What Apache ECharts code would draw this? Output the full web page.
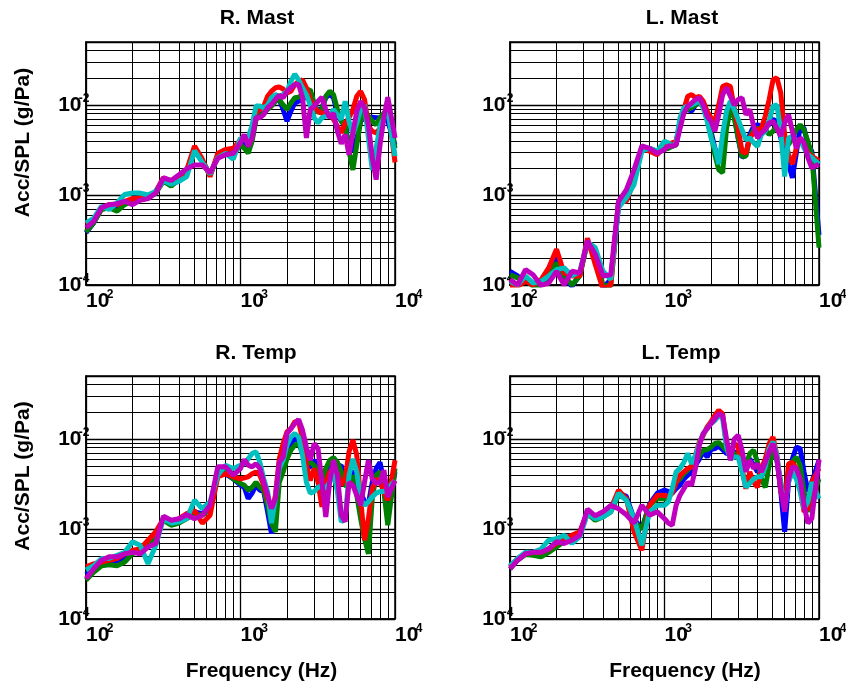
<!DOCTYPE html>
<html><head><meta charset="utf-8">
<script src="https://cdn.jsdelivr.net/npm/echarts@6/dist/echarts.min.js"></script>
<style>html,body{margin:0;padding:0;background:#fff}#c{width:846px;height:688px}</style>
</head><body><div id="c"></div>
<script>
// ---- data ----
const freq = [100,112,126,141,159,178,200,224,252,283,317,356,400,449,504,566,635,713,800,898,
 1000,1059,1122,1189,1260,1335,1414,1498,1587,1682,1782,1888,2000,2119,2245,2378,2520,2670,2828,2997,
 3175,3364,3564,3776,4000,4238,4490,4757,5040,5339,5657,5993,6350,6727,7127,7551,8000,8476,8980,10000];

const panelTitles = ['R. Mast','L. Mast','R. Temp','L. Temp'];
const yAxisTitle = 'Acc/SPL (g/Pa)';
const xAxisTitle = 'Frequency (Hz)';
const xTickValues = [100, 1000, 10000];
const yTickValues = [1e-4, 1e-3, 1e-2];
const minorMult = [2,3,4,5,6,7,8,9];

const rMastB = [3.8e-4,4.9e-4,7.1e-4,7.5e-4,7.2e-4,8.2e-4,8.9e-4,9.3e-4,9.4e-4,1.08e-3,1.48e-3,1.3e-3,1.44e-3,1.83e-3,3.2e-3,2.4e-3,1.68e-3,2.7e-3,2.9e-3,2.9e-3,
 3.8e-3,3.6e-3,3.3e-3,4.3e-3,7.2e-3,7.8e-3,8.1e-3,9.3e-3,1.0e-2,1.1e-2,1.15e-2,8.9e-3,6.6e-3,8.5e-3,1.05e-2,1.1e-2,1.15e-2,1.25e-2,1.3e-2,1.0e-2,8.5e-3,9.3e-3,1.2e-2,1.32e-2,1.2e-2,8.1e-3,6.6e-3,5.8e-3,3.6e-3,3.06e-3,4.3e-3,6.6e-3,7.2e-3,7.2e-3,7.3e-3,7.2e-3,7.2e-3,7.5e-3,6.6e-3,3.6e-3];
const rMastG = [3.9e-4,4.9e-4,6.9e-4,7.2e-4,6.6e-4,7.8e-4,8.6e-4,9.1e-4,9.3e-4,1.05e-3,1.42e-3,1.25e-3,1.5e-3,1.76e-3,3.06e-3,2.37e-3,1.68e-3,2.7e-3,2.9e-3,2.8e-3,
 3.6e-3,3.3e-3,2.9e-3,3.95e-3,6.9e-3,7.5e-3,8.1e-3,8.9e-3,9.7e-3,1.1e-2,1.15e-2,1.0e-2,8.9e-3,1.05e-2,1.2e-2,1.22e-2,1.3e-2,1.42e-2,1.48e-2,1.05e-2,8.1e-3,8.9e-3,1.25e-2,1.42e-2,1.3e-2,8.9e-3,6.6e-3,6.0e-3,3.06e-3,1.9e-3,3.6e-3,6.6e-3,8.9e-3,7.5e-3,6.6e-3,6.0e-3,7.2e-3,8.1e-3,8.9e-3,3.3e-3];
const rMastR = [4.7e-4,5.3e-4,7.2e-4,7.8e-4,7.8e-4,8.5e-4,9.1e-4,9.3e-4,9.3e-4,1.1e-3,1.55e-3,1.42e-3,1.6e-3,1.9e-3,3.5e-3,2.5e-3,1.6e-3,2.9e-3,3.2e-3,3.3e-3,
 4.1e-3,4.3e-3,3.95e-3,4.7e-3,8.1e-3,8.9e-3,9.7e-3,1.25e-2,1.42e-2,1.55e-2,1.58e-2,1.5e-2,1.36e-2,1.42e-2,1.68e-2,1.83e-2,1.9e-2,1.55e-2,1.15e-2,9.3e-3,8.5e-3,8.1e-3,7.8e-3,8.1e-3,6.9e-3,5.8e-3,4.9e-3,6.3e-3,7.2e-3,8.9e-3,1.25e-2,1.42e-2,1.15e-2,5.8e-3,5.1e-3,4.9e-3,5.5e-3,7.2e-3,1.0e-2,2.3e-3];
const rMastC = [4.9e-4,5.5e-4,7.5e-4,6.9e-4,8.2e-4,1.01e-3,1.05e-3,1.05e-3,1.0e-3,1.1e-3,1.44e-3,1.32e-3,1.42e-3,1.6e-3,3.1e-3,2.3e-3,1.7e-3,2.6e-3,2.9e-3,2.5e-3,
 4.3e-3,4.1e-3,4.3e-3,6.0e-3,9.7e-3,9.7e-3,9.3e-3,1.0e-2,1.2e-2,1.3e-2,1.25e-2,1.3e-2,1.42e-2,1.83e-2,2.2e-2,1.9e-2,1.55e-2,1.3e-2,1.0e-2,7.2e-3,6.3e-3,7.2e-3,7.5e-3,7.8e-3,8.9e-3,7.8e-3,6.9e-3,1.1e-2,6.6e-3,4.7e-3,6.3e-3,8.9e-3,1.0e-2,4.3e-3,1.9e-3,3.3e-3,5.8e-3,7.2e-3,8.5e-3,2.7e-3];
const rMastM = [4.3e-4,5.1e-4,7.2e-4,7.8e-4,8.0e-4,8.5e-4,7.8e-4,8.7e-4,9.1e-4,1.05e-3,1.55e-3,1.45e-3,1.68e-3,1.96e-3,2.15e-3,2.15e-3,1.76e-3,2.55e-3,2.8e-3,2.9e-3,
 3.8e-3,4.7e-3,3.45e-3,4.3e-3,7.3e-3,7.2e-3,7.8e-3,9.3e-3,1.01e-2,1.15e-2,1.28e-2,1.2e-2,1.42e-2,1.55e-2,1.68e-2,1.7e-2,1.2e-2,4.3e-3,8.9e-3,9.7e-3,1.1e-2,1.22e-2,8.9e-3,7.2e-3,8.1e-3,5.1e-3,3.7e-3,4.7e-3,2.8e-3,4.9e-3,8.5e-3,1.1e-2,9.3e-3,6.0e-3,2.6e-3,1.48e-3,3.6e-3,7.2e-3,1.22e-2,4.3e-3];

const lMastB = [1.42e-4,1.26e-4,1.1e-4,1.05e-4,1.0e-4,1.2e-4,2.2e-4,1.2e-4,9.7e-5,1.3e-4,3.0e-4,2.0e-4,9.3e-5,1.15e-4,7.8e-4,1.0e-3,1.55e-3,3.2e-3,3.2e-3,3.06e-3,
 3.3e-3,3.5e-3,3.6e-3,3.8e-3,6.6e-3,8.9e-3,8.9e-3,8.5e-3,1.0e-2,1.1e-2,9.7e-3,7.2e-3,5.1e-3,3.3e-3,2.37e-3,3.6e-3,7.2e-3,1.0e-2,7.5e-3,4.3e-3,2.6e-3,2.8e-3,4.7e-3,5.8e-3,6.0e-3,5.8e-3,6.3e-3,6.0e-3,6.9e-3,6.6e-3,4.3e-3,3.06e-3,2.2e-3,1.55e-3,2.9e-3,5.8e-3,5.5e-3,3.6e-3,3.06e-3,3.6e-4];
const lMastG = [1.3e-4,1.2e-4,1.15e-4,9.7e-5,1.0e-4,1.3e-4,1.76e-4,1.26e-4,1.0e-4,1.26e-4,3.0e-4,2.2e-4,1.0e-4,9.7e-5,7.8e-4,9.7e-4,1.48e-3,3.2e-3,3.3e-3,3.06e-3,
 3.2e-3,3.3e-3,3.45e-3,3.6e-3,6.3e-3,8.5e-3,8.9e-3,9.3e-3,1.0e-2,1.1e-2,9.3e-3,6.9e-3,4.7e-3,2.8e-3,1.9e-3,1.76e-3,5.5e-3,8.9e-3,7.2e-3,4.3e-3,2.7e-3,2.7e-3,4.3e-3,5.3e-3,5.5e-3,5.3e-3,5.3e-3,4.7e-3,5.1e-3,6.0e-3,4.9e-3,4.3e-3,3.6e-3,4.3e-3,5.3e-3,6.0e-3,5.3e-3,3.95e-3,2.8e-3,2.6e-4];
const lMastR = [9.7e-5,9.7e-5,1.1e-4,1.0e-4,1.15e-4,1.55e-4,2.5e-4,1.36e-4,1.26e-4,1.26e-4,3.3e-4,1.7e-4,8.9e-5,1.0e-4,8.5e-4,8.5e-4,1.42e-3,3.3e-3,3.06e-3,2.8e-3,
 3.6e-3,3.6e-3,3.8e-3,3.95e-3,5.8e-3,8.9e-3,1.25e-2,1.3e-2,1.2e-2,1.25e-2,1.1e-2,8.5e-3,7.2e-3,6.6e-3,1.0e-2,1.6e-2,1.68e-2,1.6e-2,9.3e-3,5.5e-3,3.06e-3,2.9e-3,4.3e-3,4.9e-3,5.3e-3,5.5e-3,7.5e-3,1.15e-2,1.9e-2,2.0e-2,1.36e-2,4.7e-3,2.8e-3,2.2e-3,3.3e-3,4.3e-3,3.6e-3,2.9e-3,2.7e-3,2.4e-3];
const lMastC = [1.1e-4,1.0e-4,1.26e-4,1.05e-4,1.1e-4,1.26e-4,1.48e-4,1.55e-4,1.26e-4,1.42e-4,3.0e-4,2.6e-4,1.42e-4,1.15e-4,7.2e-4,9.3e-4,1.3e-3,3.06e-3,3.3e-3,3.06e-3,
 3.95e-3,3.8e-3,3.45e-3,3.8e-3,7.2e-3,9.3e-3,9.7e-3,1.0e-2,1.05e-2,1.1e-2,9.3e-3,6.6e-3,4.3e-3,3.3e-3,2.2e-3,4.7e-3,8.5e-3,1.1e-2,8.9e-3,6.9e-3,5.3e-3,4.1e-3,4.3e-3,3.8e-3,3.45e-3,4.7e-3,5.1e-3,6.6e-3,9.7e-3,1.0e-2,5.1e-3,1.6e-3,4.3e-3,4.5e-3,3.95e-3,4.1e-3,3.3e-3,2.8e-3,2.6e-3,2.2e-3];
const lMastM = [1.15e-4,1.0e-4,1.48e-4,1.3e-4,9.9e-5,1.05e-4,1.42e-4,1.0e-4,1.42e-4,1.36e-4,3.1e-4,2.2e-4,1.26e-4,1.3e-4,8.5e-4,1.14e-3,1.9e-3,3.5e-3,3.3e-3,2.9e-3,
 3.2e-3,3.5e-3,3.5e-3,3.6e-3,5.5e-3,8.1e-3,9.7e-3,1.05e-2,1.15e-2,1.2e-2,1.0e-2,7.5e-3,6.6e-3,5.1e-3,7.8e-3,1.3e-2,1.55e-2,1.25e-2,1.0e-2,1.15e-2,1.2e-2,7.8e-3,8.9e-3,5.8e-3,4.3e-3,4.9e-3,5.3e-3,6.3e-3,6.6e-3,5.5e-3,4.5e-3,6.3e-3,7.8e-3,5.1e-3,3.3e-3,4.3e-3,3.8e-3,2.6e-3,2.0e-3,2.2e-3];

const rTempB = [3.1e-4,3.6e-4,4.2e-4,4.3e-4,4.4e-4,4.9e-4,5.5e-4,5.9e-4,6.9e-4,8.9e-4,1.27e-3,1.16e-3,1.22e-3,1.36e-3,1.55e-3,1.48e-3,1.76e-3,4.1e-3,4.1e-3,3.6e-3,
 3.06e-3,2.9e-3,2.17e-3,2.5e-3,3.06e-3,2.7e-3,2.6e-3,1.55e-3,8.9e-4,1.42e-3,4.3e-3,5.1e-3,7.2e-3,8.9e-3,1.0e-2,9.7e-3,7.2e-3,4.7e-3,4.9e-3,5.8e-3,5.1e-3,3.3e-3,4.3e-3,5.5e-3,5.3e-3,4.9e-3,5.1e-3,3.3e-3,4.3e-3,4.3e-3,3.3e-3,2.6e-3,2.0e-3,1.9e-3,3.3e-3,4.7e-3,5.5e-3,3.3e-3,1.68e-3,4.3e-3];
const rTempG = [2.7e-4,3.3e-4,3.9e-4,4.0e-4,3.9e-4,4.3e-4,5.3e-4,5.8e-4,6.6e-4,8.5e-4,1.25e-3,1.1e-3,1.16e-3,1.3e-3,1.48e-3,1.42e-3,1.68e-3,3.95e-3,4.3e-3,3.6e-3,
 3.2e-3,3.06e-3,2.7e-3,2.9e-3,3.3e-3,2.9e-3,2.7e-3,1.83e-3,1.16e-3,9.3e-4,3.3e-3,4.3e-3,6.0e-3,7.5e-3,8.5e-3,8.9e-3,6.9e-3,5.3e-3,5.5e-3,5.1e-3,4.3e-3,3.6e-3,4.7e-3,5.8e-3,6.2e-3,5.5e-3,4.3e-3,3.06e-3,2.9e-3,3.95e-3,2.37e-3,1.3e-3,7.8e-4,5.3e-4,2.17e-3,3.95e-3,4.3e-3,2.6e-3,1.1e-3,4.7e-3];
const rTempR = [3.8e-4,4.1e-4,4.3e-4,4.5e-4,4.7e-4,5.3e-4,5.8e-4,6.0e-4,7.5e-4,9.3e-4,1.3e-3,1.2e-3,1.3e-3,1.48e-3,1.6e-3,1.16e-3,1.42e-3,3.8e-3,4.1e-3,3.8e-3,
 3.6e-3,3.7e-3,3.8e-3,4.1e-3,4.3e-3,3.95e-3,3.06e-3,2.17e-3,1.42e-3,2.37e-3,6.0e-3,8.9e-3,1.2e-2,1.3e-2,1.55e-2,1.55e-2,1.0e-2,5.1e-3,3.45e-3,4.7e-3,3.3e-3,1.76e-3,3.3e-3,4.3e-3,4.7e-3,4.1e-3,3.06e-3,3.6e-3,7.2e-3,9.7e-3,6.6e-3,2.17e-3,7.5e-4,1.3e-3,2.8e-3,3.6e-3,3.3e-3,2.6e-3,2.08e-3,5.8e-3];
const rTempC = [3.5e-4,3.9e-4,4.7e-4,4.7e-4,5.1e-4,5.5e-4,7.2e-4,6.6e-4,4.1e-4,6.6e-4,1.3e-3,1.16e-3,1.2e-3,1.3e-3,2.08e-3,1.68e-3,2.0e-3,3.95e-3,5.1e-3,4.7e-3,
 5.1e-3,5.3e-3,6.0e-3,6.9e-3,7.2e-3,5.5e-3,3.6e-3,2.6e-3,1.16e-3,2.17e-3,4.7e-3,5.8e-3,8.5e-3,1.05e-2,1.15e-2,1.05e-2,6.6e-3,3.3e-3,2.5e-3,2.6e-3,2.9e-3,3.06e-3,2.8e-3,3.3e-3,4.3e-3,2.6e-3,1.2e-3,1.3e-3,3.95e-3,6.0e-3,4.3e-3,2.17e-3,1.83e-3,2.0e-3,2.27e-3,2.5e-3,2.6e-3,2.6e-3,2.8e-3,3.45e-3];
const rTempM = [2.8e-4,3.6e-4,4.5e-4,4.9e-4,4.9e-4,5.3e-4,5.5e-4,5.3e-4,6.3e-4,6.9e-4,1.39e-3,1.25e-3,1.3e-3,1.44e-3,1.3e-3,1.42e-3,1.83e-3,4.9e-3,4.9e-3,3.95e-3,
 4.7e-3,5.9e-3,5.1e-3,4.9e-3,5.3e-3,4.7e-3,3.3e-3,2.37e-3,1.68e-3,2.17e-3,5.5e-3,6.3e-3,1.15e-2,1.3e-2,1.48e-2,1.65e-2,1.25e-2,8.1e-3,5.8e-3,8.9e-3,7.8e-3,3.3e-3,1.36e-3,3.3e-3,5.8e-3,3.95e-3,1.42e-3,1.2e-3,3.3e-3,3.06e-3,2.37e-3,1.83e-3,3.3e-3,5.8e-3,3.6e-3,3.2e-3,3.3e-3,4.5e-3,2.27e-3,3.45e-3];

const lTempB = [3.8e-4,4.6e-4,5.3e-4,5.3e-4,5.3e-4,6.0e-4,6.6e-4,7.8e-4,8.5e-4,9.1e-4,1.55e-3,1.3e-3,1.42e-3,1.66e-3,2.5e-3,2.3e-3,1.3e-3,1.0e-3,1.9e-3,2.5e-3,
 2.7e-3,2.6e-3,2.5e-3,2.8e-3,3.06e-3,3.6e-3,3.95e-3,4.3e-3,5.1e-3,6.0e-3,7.2e-3,6.3e-3,7.6e-3,7.8e-3,8.3e-3,7.6e-3,6.9e-3,6.9e-3,7.2e-3,6.9e-3,6.3e-3,4.7e-3,6.0e-3,5.1e-3,4.3e-3,4.7e-3,5.3e-3,6.6e-3,9.3e-3,6.0e-3,2.6e-3,9.3e-4,3.3e-3,6.0e-3,8.1e-3,7.8e-3,4.3e-3,2.6e-3,3.3e-3,5.8e-3];
const lTempG = [3.6e-4,4.5e-4,5.2e-4,5.1e-4,4.9e-4,5.5e-4,6.3e-4,7.2e-4,8.2e-4,8.9e-4,1.48e-3,1.25e-3,1.36e-3,1.55e-3,2.37e-3,2.17e-3,1.2e-3,1.0e-3,1.83e-3,2.17e-3,
 2.17e-3,2.27e-3,2.6e-3,3.3e-3,3.6e-3,4.1e-3,4.5e-3,5.1e-3,5.5e-3,6.6e-3,7.5e-3,7.6e-3,8.1e-3,8.9e-3,9.1e-3,8.3e-3,7.5e-3,7.2e-3,6.9e-3,6.6e-3,6.0e-3,5.1e-3,6.9e-3,7.5e-3,5.5e-3,3.6e-3,2.9e-3,5.1e-3,7.2e-3,5.8e-3,3.3e-3,1.83e-3,3.95e-3,5.5e-3,6.3e-3,5.1e-3,2.6e-3,1.55e-3,2.17e-3,3.6e-3];
const lTempR = [3.8e-4,4.7e-4,5.3e-4,5.5e-4,5.5e-4,6.0e-4,6.9e-4,7.8e-4,8.5e-4,9.3e-4,1.55e-3,1.36e-3,1.48e-3,1.68e-3,2.7e-3,2.17e-3,9.3e-4,5.8e-4,1.83e-3,2.37e-3,
 2.37e-3,2.27e-3,2.5e-3,3.3e-3,3.95e-3,4.3e-3,4.7e-3,4.9e-3,6.6e-3,9.3e-3,1.1e-2,1.36e-2,1.55e-2,1.83e-2,2.08e-2,1.9e-2,8.5e-3,6.6e-3,8.9e-3,8.1e-3,4.7e-3,2.8e-3,4.3e-3,3.3e-3,2.9e-3,4.7e-3,6.0e-3,8.9e-3,1.05e-2,6.6e-3,2.6e-3,1.83e-3,5.3e-3,5.5e-3,4.7e-3,2.8e-3,1.55e-3,1.68e-3,3.3e-3,4.7e-3];
const lTempC = [3.9e-4,4.7e-4,5.5e-4,5.5e-4,6.0e-4,7.5e-4,7.8e-4,8.5e-4,6.9e-4,8.2e-4,1.48e-3,1.3e-3,1.36e-3,1.55e-3,2.5e-3,2.08e-3,1.3e-3,6.6e-4,1.55e-3,1.83e-3,
 1.83e-3,2.0e-3,2.8e-3,4.3e-3,4.7e-3,5.5e-3,6.9e-3,5.3e-3,6.6e-3,8.9e-3,1.15e-2,1.3e-2,1.48e-2,1.6e-2,1.83e-2,1.68e-2,8.1e-3,6.0e-3,6.3e-3,6.3e-3,4.3e-3,2.9e-3,3.2e-3,3.6e-3,3.8e-3,3.8e-3,4.9e-3,7.8e-3,9.3e-3,6.6e-3,3.06e-3,1.68e-3,3.3e-3,4.3e-3,3.6e-3,2.6e-3,1.68e-3,2.0e-3,3.3e-3,2.17e-3];
const lTempM = [3.6e-4,4.5e-4,5.3e-4,5.5e-4,5.5e-4,6.0e-4,7.2e-4,6.9e-4,7.5e-4,8.5e-4,1.66e-3,1.4e-3,1.55e-3,1.83e-3,1.68e-3,1.44e-3,1.16e-3,1.83e-3,1.42e-3,1.55e-3,
 1.3e-3,1.16e-3,1.1e-3,1.83e-3,2.37e-3,2.8e-3,3.3e-3,3.06e-3,4.7e-3,8.5e-3,1.15e-2,1.3e-2,1.48e-2,1.68e-2,1.9e-2,1.83e-2,1.0e-2,5.8e-3,1.0e-2,1.1e-2,7.5e-3,4.3e-3,5.8e-3,4.7e-3,5.3e-3,4.3e-3,5.5e-3,7.2e-3,8.9e-3,6.0e-3,2.8e-3,1.55e-3,3.6e-3,4.9e-3,4.7e-3,3.6e-3,1.83e-3,1.16e-3,1.3e-3,5.9e-3];

// ---- chart ----
const panelSeries = [
  [rMastB, rMastG, rMastR, rMastC, rMastM],
  [lMastB, lMastG, lMastR, lMastC, lMastM],
  [rTempB, rTempG, rTempR, rTempC, rTempM],
  [lTempB, lTempG, lTempR, lTempC, lTempM]
];
const colors = ['#0000ff', '#008000', '#ff0000', '#00bfbf', '#bf00bf'];
const FONT = '"Liberation Sans", Arial, Helvetica, sans-serif';
const X_MIN = 100, X_MAX = 10000, Y_MIN = 1e-4, Y_MAX = 0.05;

const layout = [
  {left: 86, top: 42, tx: 257, ty: 18.5},
  {left: 510, top: 42, tx: 682, ty: 18.5},
  {left: 86, top: 376, tx: 256, ty: 353.5},
  {left: 510, top: 376, tx: 681, ty: 353.5}
];
const GW = 309, GH = 243;

function expLabel(v) {
  const e = Math.log10(v), r = Math.round(e);
  if (Math.abs(e - r) > 1e-6) return '';
  return '{b|10}{s|' + r + '}';
}
function richFor(supW) {
  return {
    b: {fontSize: 21, fontWeight: 'bold', fontFamily: FONT, color: '#000', lineHeight: 24, padding: [4, 0, 4, 0]},
    s: {fontSize: 12, fontWeight: 'bold', fontFamily: FONT, color: '#000', lineHeight: 13, verticalAlign: 'top', width: supW, align: 'right'}
  };
}

const gridLines = [];
[100, 1000].forEach(d => minorMult.forEach(m => gridLines.push({xAxis: d * m})));
yTickValues.forEach(d => minorMult.forEach(m => { const v = d * m; if (v < Y_MAX * 0.999) gridLines.push({yAxis: v}); }));

const grids = [], xAxes = [], yAxes = [], series = [];
layout.forEach((l, i) => {
  grids.push({left: l.left, top: l.top, width: GW, height: GH, show: true, borderColor: '#000', borderWidth: 1.5,
    backgroundColor: '#fff', containLabel: false, outerBoundsMode: 'none'});
  xAxes.push({type: 'log', logBase: 10, gridIndex: i, min: X_MIN, max: X_MAX,
    axisLine: {show: true, lineStyle: {color: '#000', width: 1.5}},
    axisTick: {show: false}, minorTick: {show: false},
    splitLine: {show: true, lineStyle: {color: '#000', width: 1.3}},
    axisLabel: {show: true, formatter: expLabel, rich: richFor(4), align: 'left', margin: 4, hideOverlap: false,
      showMinLabel: true, showMaxLabel: true}});
  yAxes.push({type: 'log', logBase: 10, gridIndex: i, min: Y_MIN, max: Y_MAX,
    axisLine: {show: true, lineStyle: {color: '#000', width: 1.5}},
    axisTick: {show: false}, minorTick: {show: false},
    splitLine: {show: true, lineStyle: {color: '#000', width: 1.3}},
    axisLabel: {show: true, formatter: expLabel, rich: richFor(8), margin: -3.5, hideOverlap: false,
      showMinLabel: true, showMaxLabel: true}});
  series.push({type: 'line', xAxisIndex: i, yAxisIndex: i, data: [], silent: true, animation: false,
    markLine: {silent: true, animation: false, precision: 10, symbol: ['none', 'none'], z: 1, label: {show: false},
      emphasis: {disabled: true}, lineStyle: {color: '#000', width: 1, type: 'solid'}, data: gridLines}});
  panelSeries[i].forEach((vals, k) => {
    series.push({type: 'line', xAxisIndex: i, yAxisIndex: i, z: 3, showSymbol: false, symbol: 'none',
      animation: false, silent: true, clip: true,
      lineStyle: {color: colors[k], width: 5}, itemStyle: {color: colors[k]},
      data: freq.map((f, j) => [f, vals[j]])});
  });
});

const textStyle = (t) => ({text: t, fill: '#000', font: 'bold 21px ' + FONT,
  textAlign: 'center', textVerticalAlign: 'middle', align: 'center', verticalAlign: 'middle'});
const graphic = [];
layout.forEach((l, i) => graphic.push({type: 'text', x: l.tx, y: l.ty, silent: true, style: textStyle(panelTitles[i])}));
graphic.push({type: 'text', x: 23, y: 142.5, rotation: Math.PI / 2, silent: true, style: textStyle(yAxisTitle)});
graphic.push({type: 'text', x: 23, y: 476, rotation: Math.PI / 2, silent: true, style: textStyle(yAxisTitle)});
graphic.push({type: 'text', x: 261.5, y: 671, silent: true, style: textStyle(xAxisTitle)});
graphic.push({type: 'text', x: 685, y: 671, silent: true, style: textStyle(xAxisTitle)});

const chart = echarts.init(document.getElementById('c'), null, {renderer: 'canvas'});
chart.setOption({
  animation: false,
  backgroundColor: '#fff',
  grid: grids, xAxis: xAxes, yAxis: yAxes, series: series, graphic: graphic
});
</script></body></html>
